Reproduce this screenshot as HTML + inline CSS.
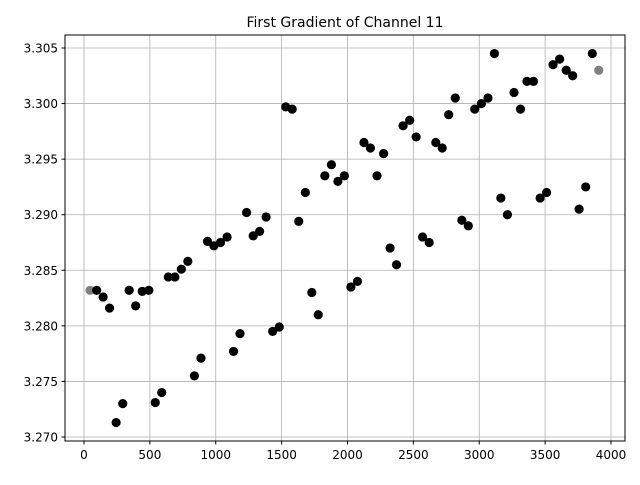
<!DOCTYPE html>
<html><head><meta charset="utf-8"><style>
body{margin:0;background:#fff;}
svg text{font-family:"DejaVu Sans","Liberation Sans",sans-serif;}
</style></head><body>
<svg id="chart" width="640" height="480" xmlns="http://www.w3.org/2000/svg">
<rect width="640" height="480" fill="#fff"/>
<text x="345" y="27" text-anchor="middle" font-size="14">First Gradient of Channel 11</text>
<g id="grid"></g><g id="ticks"></g><g id="pts"></g>
<rect x="65" y="35" width="560" height="406" fill="none" stroke="#000" stroke-width="1"/>
</svg>
<script>
const xTicks=[0,500,1000,1500,2000,2500,3000,3500,4000];
const yTicks=[3.270,3.275,3.280,3.285,3.290,3.295,3.300,3.305];
const xs=[46,96,145,194,244,294,343,392,442,492,541,590,640,690,739,788,838,888,937,986,1036,1086,1135,1184,1234,1284,1333,1382,1432,1482,1531,1580,1630,1680,1729,1778,1828,1878,1927,1976,2026,2076,2125,2174,2224,2274,2323,2372,2422,2472,2521,2570,2620,2670,2719,2768,2818,2868,2917,2966,3016,3066,3115,3164,3214,3264,3313,3362,3412,3462,3511,3560,3610,3660,3709,3758,3808,3858,3907];
const ys=[3.2832,3.2832,3.2826,3.2816,3.2713,3.2730,3.2832,3.2818,3.2831,3.2832,3.2731,3.2740,3.2844,3.2844,3.2851,3.2858,3.2755,3.2771,3.2876,3.2872,3.2875,3.2880,3.2777,3.2793,3.2902,3.2881,3.2885,3.2898,3.2795,3.2799,3.2997,3.2995,3.2894,3.2920,3.2830,3.2810,3.2935,3.2945,3.2930,3.2935,3.2835,3.2840,3.2965,3.2960,3.2935,3.2955,3.2870,3.2855,3.2980,3.2985,3.2970,3.2880,3.2875,3.2965,3.2960,3.2990,3.3005,3.2895,3.2890,3.2995,3.3000,3.3005,3.3045,3.2915,3.2900,3.3010,3.2995,3.3020,3.3020,3.2915,3.2920,3.3035,3.3040,3.3030,3.3025,3.2905,3.2925,3.3045,3.3030];
const sx=v=>84+v*(527/4000);
const sy=v=>437-(v-3.270)*(389/0.035);
const NS="http://www.w3.org/2000/svg";
const g=document.getElementById('grid'),t=document.getElementById('ticks'),p=document.getElementById('pts');
function mk(tag,at,parent){const e=document.createElementNS(NS,tag);for(const k in at)e.setAttribute(k,at[k]);parent.appendChild(e);return e;}
xTicks.forEach(v=>{const x=sx(v);
const l=mk('line',{x1:x,x2:x,y1:35,y2:441,stroke:'#b0b0b0','stroke-width':0.8},g);


mk('line',{x1:x,x2:x,y1:441,y2:444.5,stroke:'#000'},t);
const tx=mk('text',{x:x,y:459,'text-anchor':'middle','font-size':12},t);tx.textContent=v;

});
yTicks.forEach(v=>{const y=sy(v);
const l=mk('line',{x1:65,x2:625,y1:y,y2:y,stroke:'#b0b0b0','stroke-width':0.8},g);


mk('line',{x1:61.5,x2:65,y1:y,y2:y,stroke:'#000'},t);
const tx=mk('text',{x:58,y:y+4.5,'text-anchor':'end','font-size':12},t);tx.textContent=v.toFixed(3);

});
xs.forEach((v,i)=>{const edge=(i===0||i===xs.length-1);
const c=mk('circle',{cx:sx(v),cy:sy(ys[i]),r:4.6,fill:edge?'#808080':'#000'},p);

});
</script>
</body></html>
